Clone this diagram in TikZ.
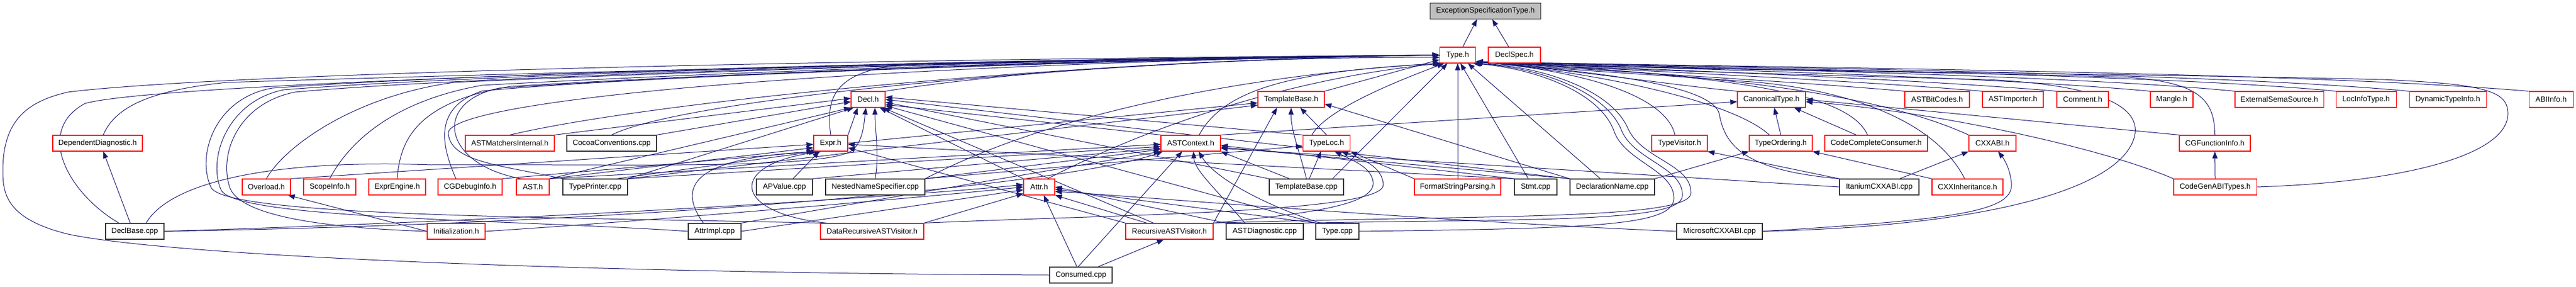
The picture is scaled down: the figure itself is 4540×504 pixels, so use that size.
\documentclass[tikz,border=0pt]{standalone}
\usepackage{fontspec}
\setmainfont{Liberation Sans}
\usetikzlibrary{arrows.meta,backgrounds}
\definecolor{edgec}{RGB}{25,25,112}
\definecolor{boxred}{RGB}{255,0,0}
\newcommand{\nfont}{\fontsize{13.3}{15}\selectfont}
\tikzset{
  dep/.style={draw=edgec, line width=1pt, -{Triangle[length=12pt,width=9pt]}},
  rbox/.style={draw=boxred, line width=1.1pt, fill=white, minimum height=28pt, inner sep=0pt, font=\nfont, text=black},
  kbox/.style={rbox, draw=black!80},
  gbox/.style={rbox, draw=black!80, fill=gray!50}
}
\begin{document}
\begin{tikzpicture}[x=1pt,y=-1pt]
\useasboundingbox (0,0) rectangle (4540,504);
% ---------- nodes
\node[gbox, minimum width=195pt] (es) at (2618,19.5) {ExceptionSpecificationType.h};
\node[rbox, minimum width=63pt] (typeh) at (2569,97) {Type.h};
\node[rbox, minimum width=92pt] (declspec) at (2669,97) {DeclSpec.h};
% row 2
\node[rbox, minimum width=60pt] (decl) at (1530,175) {Decl.h};
\node[rbox, minimum width=117pt] (tbh) at (2275.5,175) {TemplateBase.h};
\node[rbox, minimum width=120pt] (canon) at (3122,175) {CanonicalType.h};
\node[rbox, minimum width=114pt] (bitcodes) at (3414,175) {ASTBitCodes.h};
\node[rbox, minimum width=107pt] (importer) at (3547.5,175) {ASTImporter.h};
\node[rbox, minimum width=91pt] (comment) at (3670.5,175) {Comment.h};
\node[rbox, minimum width=75pt] (mangle) at (3827.5,175) {Mangle.h};
\node[rbox, minimum width=156pt] (extsema) at (4017,175) {ExternalSemaSource.h};
\node[rbox, minimum width=106pt] (locinfo) at (4170,175) {LocInfoType.h};
\node[rbox, minimum width=136pt] (dyntype) at (4314,175) {DynamicTypeInfo.h};
\node[rbox, minimum width=78pt] (abiinfo) at (4496,175) {ABIInfo.h};
% row 3
\node[rbox, minimum width=158pt] (depdiag) at (172,252) {DependentDiagnostic.h};
\node[rbox, minimum width=157pt] (astmatch) at (898.5,252) {ASTMatchersInternal.h};
\node[kbox, minimum width=158pt] (cocoa) at (1078,252) {CocoaConventions.cpp};
\node[rbox, minimum width=60pt] (expr) at (1464,252) {Expr.h};
\node[rbox, minimum width=105pt] (astctx) at (2098.5,252) {ASTContext.h};
\node[rbox, minimum width=83pt] (typeloc) at (2338,252) {TypeLoc.h};
\node[rbox, minimum width=98pt] (typevis) at (2960,252) {TypeVisitor.h};
\node[rbox, minimum width=111pt] (typeord) at (3138.5,252) {TypeOrdering.h};
\node[rbox, minimum width=181pt] (ccc) at (3306.5,252) {CodeCompleteConsumer.h};
\node[rbox, minimum width=83pt] (cxxabi) at (3511.5,252) {CXXABI.h};
\node[rbox, minimum width=125pt] (cgfi) at (3903.5,252) {CGFunctionInfo.h};
% row 4
\node[rbox, minimum width=85pt] (overload) at (469.5,329) {Overload.h};
\node[rbox, minimum width=92pt] (scope) at (581,329) {ScopeInfo.h};
\node[rbox, minimum width=100pt] (exprengine) at (700,329) {ExprEngine.h};
\node[rbox, minimum width=113pt] (cgdebug) at (828.5,329) {CGDebugInfo.h};
\node[rbox, minimum width=58pt] (asth) at (939,329) {AST.h};
\node[kbox, minimum width=114pt] (typeprinter) at (1049,329) {TypePrinter.cpp};
\node[kbox, minimum width=99pt] (apvalue) at (1382.5,329) {APValue.cpp};
\node[kbox, minimum width=175pt] (nns) at (1542.5,329) {NestedNameSpecifier.cpp};
\node[rbox, minimum width=55pt] (attr) at (1831.5,329) {Attr.h};
\node[kbox, minimum width=131pt] (tbcpp) at (2302.5,329) {TemplateBase.cpp};
\node[rbox, minimum width=152pt] (fsp) at (2569,329) {FormatStringParsing.h};
\node[kbox, minimum width=75pt] (stmtcpp) at (2706.5,329) {Stmt.cpp};
\node[kbox, minimum width=149pt] (dnamecpp) at (2841.5,329) {DeclarationName.cpp};
\node[kbox, minimum width=140pt] (itanium) at (3312,329) {ItaniumCXXABI.cpp};
\node[rbox, minimum width=125pt] (cxxinh) at (3467.5,329) {CXXInheritance.h};
\node[rbox, minimum width=146pt] (cgabi) at (3904,329) {CodeGenABITypes.h};
% row 5
\node[kbox, minimum width=103pt] (declbase) at (237.5,407) {DeclBase.cpp};
\node[rbox, minimum width=102pt] (init) at (804,407) {Initialization.h};
\node[kbox, minimum width=93pt] (attrimpl) at (1259.5,407) {AttrImpl.cpp};
\node[rbox, minimum width=182pt] (drav) at (1537,407) {DataRecursiveASTVisitor.h};
\node[rbox, minimum width=154pt] (rav) at (2061,407) {RecursiveASTVisitor.h};
\node[kbox, minimum width=136pt] (astdiag) at (2229,407) {ASTDiagnostic.cpp};
\node[kbox, minimum width=76pt] (typecpp) at (2357,407) {Type.cpp};
\node[kbox, minimum width=151pt] (mscxxabi) at (3030.5,407) {MicrosoftCXXABI.cpp};
% row 6
\node[kbox, minimum width=110pt] (consumed) at (1905,484) {Consumed.cpp};

\begin{scope}[on background layer]
\fill[white] (0,0) rectangle (4540,504);
% ---------- to ExceptionSpecificationType.h
\draw[dep] ([xshift=9pt]typeh.north) -- ([xshift=-15pt]es.south);
\draw[dep] ([xshift=-10pt]declspec.north) -- ([xshift=12pt]es.south);
% ---------- to Type.h from the left
\draw[dep] ([xshift=10pt]depdiag.north) .. controls (200,195) and (250,160) .. (400,145) .. controls (1200,120) and (2100,102) .. (typeh.west);
\draw[dep] ([xshift=-28pt]declbase.north) .. controls (120,340) and (60,230) .. (150,182) .. controls (300,140) and (1800,103) .. (typeh.west);
\draw[dep] (consumed.west) .. controls (1000,480) and (300,450) .. (120,412) .. controls (10,385) and (5,340) .. (5,300) .. controls (5,210) and (50,178) .. (120,162) .. controls (400,128) and (1500,104) .. (typeh.west);
\draw[dep] (overload.north) .. controls (500,260) and (620,170) .. (800,145) .. controls (1400,118) and (2100,100) .. (typeh.west);
\draw[dep] (scope.north) .. controls (610,260) and (680,180) .. (850,150) .. controls (1400,120) and (2100,101) .. (typeh.west);
\draw[dep] (exprengine.north) .. controls (705,250) and (730,180) .. (900,152) .. controls (1400,122) and (2100,101) .. (typeh.west);
\draw[dep] ([xshift=-25pt]cgdebug.north) .. controls (780,260) and (760,190) .. (850,160) .. controls (1200,128) and (2100,102) .. (typeh.west);
\draw[dep] ([xshift=-20pt]asth.north) .. controls (780,290) and (760,180) .. (880,155) .. controls (1300,127) and (2100,102) .. (typeh.west);
\draw[dep] (typeprinter.north west) .. controls (880,290) and (795,285) .. (790,235) .. controls (785,175) and (1500,112) .. (typeh.west);
\draw[dep] (astmatch.north) .. controls (1150,178) and (1900,105) .. (typeh.west);
\draw[dep] (cocoa.north) .. controls (1200,175) and (1900,106) .. (typeh.west);
\draw[dep] (init.west) .. controls (600,402) and (425,385) .. (405,330) .. controls (385,270) and (420,182) .. (520,162) .. controls (900,128) and (2000,102) .. (typeh.west);
\draw[dep] (attrimpl.west) .. controls (900,386) and (420,386) .. (390,335) .. controls (365,280) and (400,178) .. (500,158) .. controls (900,126) and (2000,101) .. (typeh.west);
\draw[dep] (drav.north west) .. controls (1000,382) and (400,382) .. (372,330) .. controls (345,272) and (380,172) .. (480,155) .. controls (900,124) and (2000,100) .. (typeh.west);
\draw[dep] (decl.north east) .. controls (1800,122) and (2200,100) .. ([yshift=-4pt]typeh.west);
\draw[dep] (expr.north) .. controls (1455,170) and (1470,125) .. (1600,112) .. controls (2000,103) and (2300,99) .. (typeh.west);
\draw[dep] (nns.north east) .. controls (1900,175) and (2300,125) .. (typeh.south west);
\draw[dep] ([xshift=15pt]attr.north) .. controls (2000,235) and (2250,140) .. ([xshift=4pt]typeh.south west);
\draw[dep] (tbh.north east) -- ([yshift=-8pt]typeh.west);
\draw[dep] ([xshift=15pt]astctx.north) .. controls (2160,150) and (2300,125) .. ([xshift=2pt]typeh.south west);
\draw[dep] ([xshift=-26pt]typeloc.north) .. controls (2340,190) and (2470,140) .. ([xshift=8pt]typeh.south west);
\draw[dep] ([xshift=-20pt]tbcpp.north east) -- ([xshift=14pt]typeh.south west);
\draw[dep] (fsp.north) -- (typeh.south);
\draw[dep] ([xshift=-13pt]stmtcpp.north) -- ([xshift=5pt]typeh.south);
\draw[dep] ([xshift=-21pt]dnamecpp.north) -- ([xshift=18pt]typeh.south);
% loops from the lower left round the right
\draw[dep] (typecpp.east) .. controls (2800,402) and (2948,398) .. (2950,350) .. controls (2952,300) and (2865,285) .. (2845,232) .. controls (2820,160) and (2700,120) .. ([xshift=-5pt]typeh.south east);
\draw[dep] (astdiag.north east) .. controls (2700,385) and (2962,392) .. (2965,345) .. controls (2968,295) and (2880,282) .. (2858,230) .. controls (2830,158) and (2705,118) .. ([xshift=-3pt]typeh.south east);
\draw[dep] (rav.north east) .. controls (2600,378) and (2978,388) .. (2980,340) .. controls (2982,290) and (2895,280) .. (2870,228) .. controls (2840,155) and (2710,116) .. ([xshift=-1pt]typeh.south east);
% ---------- to Type.h from the right (under DeclSpec.h, into the lower right corner)
\draw[dep] ([xshift=-8pt]typevis.north) .. controls (2935,165) and (2780,124) .. ([yshift=3pt]typeh.south east);
\draw[dep] (canon.north west) .. controls (2950,150) and (2780,124) .. ([yshift=3pt]typeh.south east);
\draw[dep] ([xshift=-20pt]typeord.north) .. controls (3050,175) and (2800,126) .. ([yshift=3pt]typeh.south east);
\draw[dep] ([xshift=-15pt]ccc.north) .. controls (3260,170) and (3100,135) .. ([yshift=3pt]typeh.south east);
\draw[dep] (cxxabi.north west) .. controls (3300,160) and (3000,130) .. ([yshift=3pt]typeh.south east);
\draw[dep] ([xshift=-5pt]cxxinh.north) .. controls (3420,230) and (3300,165) .. (3100,145) .. controls (2900,130) and (2740,122) .. ([yshift=3pt]typeh.south east);
\draw[dep] (itanium.north west) .. controls (3080,300) and (3040,260) .. (3030,200) .. controls (3015,145) and (2780,124) .. ([yshift=3pt]typeh.south east);
\draw[dep] (mscxxabi.east) .. controls (3500,398) and (3705,335) .. (3752,262) .. controls (3792,200) and (3730,150) .. (3500,140) .. controls (3200,132) and (2800,122) .. ([yshift=3pt]typeh.south east);
\draw[dep] (cgfi.north) .. controls (3903,175) and (3875,145) .. (3750,136) .. controls (3400,125) and (2800,121) .. ([yshift=3pt]typeh.south east);
\draw[dep] (cgabi.east) .. controls (4250,320) and (4420,270) .. (4420,200) .. controls (4420,160) and (4380,148) .. (4200,140) .. controls (3800,130) and (2800,121) .. ([yshift=3pt]typeh.south east);
\draw[dep] (bitcodes.north west) .. controls (3150,142) and (2800,124) .. ([yshift=3pt]typeh.south east);
\draw[dep] (importer.north west) .. controls (3250,140) and (2850,123) .. ([yshift=3pt]typeh.south east);
\draw[dep] (comment.north west) .. controls (3350,137) and (2900,122) .. ([yshift=3pt]typeh.south east);
\draw[dep] (mangle.north west) .. controls (3500,134) and (2950,121) .. ([yshift=3pt]typeh.south east);
\draw[dep] (extsema.north west) .. controls (3650,132) and (3000,120) .. ([yshift=3pt]typeh.south east);
\draw[dep] (locinfo.north west) .. controls (3800,130) and (3050,120) .. ([yshift=3pt]typeh.south east);
\draw[dep] (dyntype.north west) .. controls (3900,128) and (3100,119) .. ([yshift=3pt]typeh.south east);
\draw[dep] (abiinfo.north west) .. controls (4050,126) and (3150,119) .. ([yshift=3pt]typeh.south east);
% ---------- to Decl.h
\draw[dep] (astmatch.north east) -- ([yshift=2pt]decl.west);
\draw[dep] (cocoa.north east) -- ([yshift=-4pt]decl.west);
\draw[dep] (asth.north east) -- (decl.south west);
\draw[dep] (typeprinter.north east) -- ([xshift=5pt]decl.south west);
\draw[dep] (expr.north east) -- ([xshift=12pt]decl.south west);
\draw[dep] (nns.north) .. controls (1550,270) and (1542,230) .. ([xshift=12pt]decl.south);
\draw[dep] ([xshift=20pt]declbase.north) .. controls (300,320) and (480,280) .. (760,290) .. controls (1100,288) and (1470,300) .. (1505,262) .. controls (1520,245) and (1522,225) .. ([xshift=-4pt]decl.south);
\draw[dep] (astctx.north west) -- ([yshift=-9pt]decl.east);
\draw[dep] (attr.north west) -- ([xshift=-10pt]decl.south east);
\draw[dep] ([xshift=-28pt]rav.north) -- ([xshift=-4pt]decl.south east);
\draw[dep] (typeloc.north west) -- ([yshift=4pt]decl.east);
\draw[dep] (dnamecpp.north west) -- (decl.east);
\draw[dep] (tbcpp.north west) -- ([yshift=-5pt]decl.east);
\draw[dep] (typecpp.north west) -- ([yshift=-11pt]decl.east);
% ---------- to TemplateBase.h
\draw[dep] (expr.east) -- ([yshift=-6pt]tbh.west);
\draw[dep] (typeprinter.north east) -- ([yshift=-10pt]tbh.west);
\draw[dep] (typeloc.north) -- ([xshift=16pt]tbh.south);
\draw[dep] (tbcpp.north) .. controls (2290,265) and (2275,230) .. (tbh.south);
\draw[dep] (dnamecpp.north west) -- ([yshift=-8pt]tbh.east);
\draw[dep] (rav.north east) -- ([xshift=-25pt]tbh.south);
% ---------- to CanonicalType.h
\draw[dep] (astctx.north east) -- ([yshift=-4pt]canon.west);
\draw[dep] (typeord.north) -- ([xshift=5pt]canon.south);
\draw[dep] ([xshift=-35pt]ccc.north) -- ([xshift=40pt]canon.south);
\draw[dep] (cgfi.north west) -- (canon.east);
\draw[dep] (cgabi.north west) .. controls (3700,258) and (3400,195) .. ([yshift=-4pt]canon.east);
% ---------- to Expr.h
\draw[dep] (overload.north east) -- ([yshift=-2pt]expr.west);
\draw[dep] (asth.north east) -- ([yshift=-8pt]expr.west);
\draw[dep] (cgdebug.north east) -- (expr.south west);
\draw[dep] ([xshift=-20pt]typeprinter.north east) -- ([xshift=4pt]expr.south west);
\draw[dep] ([xshift=15pt]apvalue.north) -- ([xshift=-20pt]expr.south);
\draw[dep] ([xshift=-20pt]attrimpl.north) .. controls (1195,330) and (1215,278) .. ([xshift=8pt]expr.south west);
\draw[dep] ([xshift=-80pt]drav.north) .. controls (1290,375) and (1280,290) .. ([xshift=14pt]expr.south west);
\draw[dep] (stmtcpp.north west) -- ([yshift=-2pt]expr.east);
\draw[dep] (rav.north west) -- ([yshift=-8pt]expr.east);
% ---------- to ASTContext.h
\draw[dep] (asth.north east) -- ([yshift=-2pt]astctx.west);
\draw[dep] (typeprinter.north east) -- ([yshift=-6pt]astctx.west);
\draw[dep] (apvalue.north east) -- ([yshift=-9pt]astctx.west);
\draw[dep] (nns.north east) -- ([yshift=-11pt]astctx.west);
\draw[dep] (declbase.east) .. controls (1200,392) and (1900,320) .. ([xshift=4pt]astctx.south west);
\draw[dep] (attrimpl.north east) -- (astctx.south west);
\draw[dep] ([xshift=-5pt]consumed.north) -- ([xshift=-15pt]astctx.south);
\draw[dep] ([xshift=-35pt]astdiag.north) .. controls (2150,340) and (2105,300) .. ([xshift=5pt]astctx.south);
\draw[dep] ([xshift=-30pt]typecpp.north) .. controls (2250,368) and (2145,320) .. ([xshift=14pt]astctx.south);
\draw[dep] ([xshift=-30pt]tbcpp.north) -- (astctx.south east);
\draw[dep] (stmtcpp.north west) -- ([yshift=-4pt]astctx.east);
\draw[dep] (dnamecpp.north west) -- ([yshift=-7pt]astctx.east);
\draw[dep] (itanium.west) -- ([yshift=-9pt]astctx.east);
% ---------- to TypeLoc.h
\draw[dep] (nns.north east) -- ([yshift=-5pt]typeloc.west);
\draw[dep] ([xshift=5pt]tbcpp.north) -- ([xshift=-10pt]typeloc.south);
\draw[dep] (rav.north east) .. controls (2300,376) and (2425,362) .. (2420,320) .. controls (2416,295) and (2390,285) .. ([xshift=14pt]typeloc.south);
\draw[dep] (drav.north east) .. controls (1950,378) and (2440,375) .. (2438,325) .. controls (2436,292) and (2400,280) .. ([xshift=26pt]typeloc.south);
\draw[dep] (fsp.north west) -- (typeloc.south east);
% ---------- to Attr.h
\draw[dep] (declbase.east) .. controls (1000,385) and (1600,345) .. ([yshift=4pt]attr.west);
\draw[dep] (init.east) .. controls (1100,392) and (1600,350) .. (attr.west);
\draw[dep] (attrimpl.east) -- ([yshift=-5pt]attr.west);
\draw[dep] (drav.north east) -- ([yshift=3pt]attr.south west);
\draw[dep] ([xshift=-40pt]rav.north) -- (attr.south east);
\draw[dep] (typecpp.north west) -- ([yshift=-4pt]attr.east);
\draw[dep] (astdiag.north west) -- (attr.east);
\draw[dep] (mscxxabi.west) .. controls (2500,388) and (2000,345) .. ([yshift=-8pt]attr.east);
\draw[dep] ([xshift=-7pt]consumed.north) -- ([xshift=8pt]attr.south);
% ---------- others
\draw[dep] (itanium.north west) -- (typevis.south east);
\draw[dep] (dnamecpp.north east) -- (typeord.south west);
\draw[dep] (cxxinh.north west) -- (typeord.south east);
\draw[dep] ([xshift=36pt]itanium.north) -- (cxxabi.south west);
\draw[dep] (mscxxabi.east) .. controls (3450,386) and (3550,372) .. (3545,322) .. controls (3542,295) and (3532,280) .. ([xshift=10pt]cxxabi.south);
\draw[dep] (cgabi.north) -- (cgfi.south);
\draw[dep] (init.west) -- ([xshift=-5pt]overload.south east);
\draw[dep] ([xshift=-8pt]declbase.north) -- ([xshift=10pt]depdiag.south);
\draw[dep] ([xshift=30pt]consumed.north) -- ([xshift=-10pt]rav.south);
\end{scope}
\end{tikzpicture}
\end{document}
